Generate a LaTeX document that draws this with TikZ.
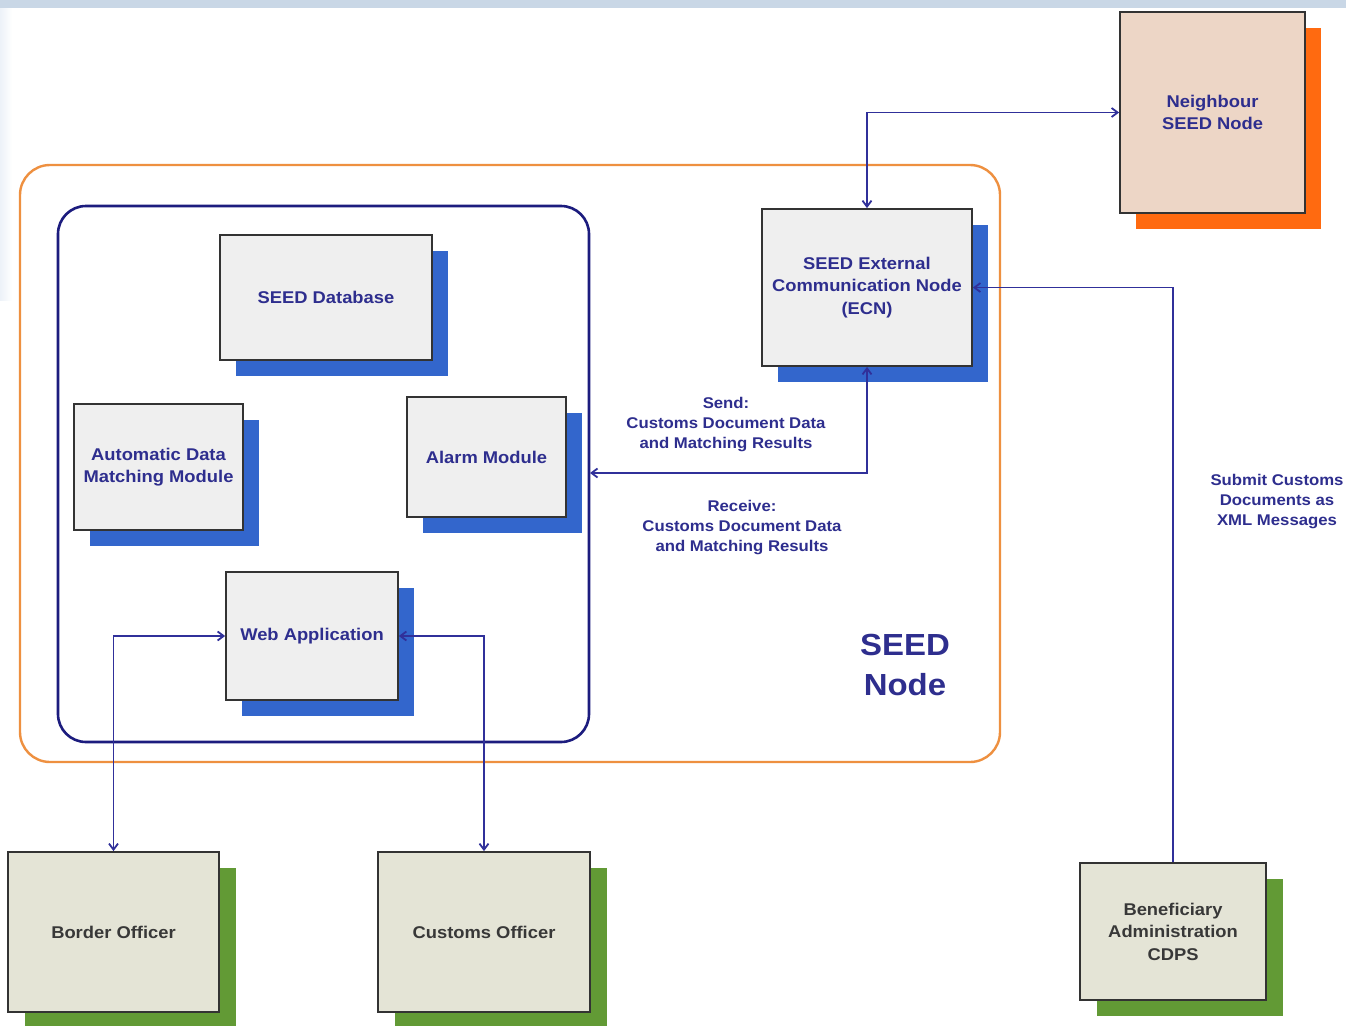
\documentclass[tikz,border=0pt]{standalone}
\usepackage{fontspec}
\setmainfont{Liberation Sans}[FakeStretch=1.08]
\usetikzlibrary{arrows.meta,shadows}
\definecolor{navytext}{HTML}{2E2E8E}
\definecolor{arrowblue}{HTML}{30309A}
\definecolor{boxfill}{HTML}{EFEFEF}
\definecolor{boxline}{HTML}{333333}
\definecolor{shblue}{HTML}{3366CC}
\definecolor{shorange}{HTML}{FF6A10}
\definecolor{shgreen}{HTML}{629A35}
\definecolor{greenfill}{HTML}{E4E4D6}
\definecolor{peachfill}{HTML}{EDD6C6}
\definecolor{outerorange}{HTML}{EE9040}
\definecolor{innernavy}{HTML}{1C1C7E}
\definecolor{bandblue}{HTML}{C9D7E6}
\definecolor{edgeblue}{HTML}{EDF2F8}
\begin{document}
\begin{tikzpicture}[x=1pt,y=-1pt,
  boxbase/.style={draw=boxline, line width=1.8pt, fill=boxfill, inner sep=0pt,
    align=center, text=navytext, font=\bfseries\fontsize{17}{22.5}\selectfont},
  blueshadow/.style={drop shadow={shadow xshift=16pt, shadow yshift=-16pt, fill=shblue, opacity=1}},
  orangeshadow/.style={drop shadow={shadow xshift=16pt, shadow yshift=-16pt, fill=shorange, opacity=1}},
  greenshadow/.style={drop shadow={shadow xshift=17pt, shadow yshift=-16pt, fill=shgreen, opacity=1}},
  bluebox/.style={boxbase, blueshadow},
  greenbox/.style={boxbase, greenshadow, fill=greenfill, text=black!78},
  peachbox/.style={boxbase, orangeshadow, fill=peachfill},
  conn/.style={draw=arrowblue, line width=1.8pt},
  tipped/.style={conn, arrows={-Straight Barb[length=6pt,width=9pt]}},
  bitipped/.style={conn, arrows={Straight Barb[length=6pt,width=9pt]-Straight Barb[length=6pt,width=9pt]}},
  lbl/.style={align=center, text=navytext, font=\bfseries\fontsize{15.5}{20}\selectfont}]
\useasboundingbox (0,0) rectangle (1346,1025);
\fill[white] (0,0) rectangle (1346,1025);
\shade[left color=edgeblue, right color=white] (0,8) rectangle (12,300);
\fill[bandblue] (0,0) rectangle (1346,8);

% containers
\node[draw=outerorange, line width=2.4pt, rounded corners=30pt, fill=white,
  minimum width=980pt, minimum height=597pt] (outer) at (510,463.5) {};
\node[draw=innernavy, line width=2.6pt, rounded corners=28pt,
  minimum width=531pt, minimum height=536pt] (inner) at (323.5,474) {};

% boxes
\node[peachbox, minimum width=185pt, minimum height=201pt] (neigh) at (1212.5,112.5) {Neighbour\\SEED Node};
\node[bluebox, minimum width=212pt, minimum height=125pt] (db) at (326,297.5) {SEED Database};
\node[bluebox, minimum width=169pt, minimum height=126pt] (adm) at (158.5,467) {Automatic Data\\Matching Module};
\node[bluebox, minimum width=159pt, minimum height=120pt] (alarm) at (486.5,457) {Alarm Module};
\node[bluebox, minimum width=172pt, minimum height=128pt] (web) at (312,636) {Web Application};
\node[bluebox, minimum width=210pt, minimum height=157pt] (ecn) at (867,287.5) {SEED External\\Communication Node\\(ECN)};
\node[greenbox, minimum width=211pt, minimum height=160pt] (border) at (113.5,932) {Border Officer};
\node[greenbox, minimum width=212pt, minimum height=160pt] (customs) at (484,932) {Customs Officer};
\node[greenbox, minimum width=186pt, minimum height=137pt] (bene) at (1173,931.5) {Beneficiary\\Administration\\CDPS};

% labels
\node[lbl] (sendlbl) at (726,425) {Send:\\Customs Document Data\\and Matching Results};
\node[lbl] (recvlbl) at (742,528) {Receive:\\Customs Document Data\\and Matching Results};
\node[lbl] (submitlbl) at (1277,502) {Submit Customs\\Documents as\\XML Messages};
\node[align=center, text=navytext, font=\bfseries\fontsize{30.5}{40}\selectfont] (seednode) at (905,665) {SEED\\Node};

% connectors
\coordinate (recvpt) at (590,473);
\draw[bitipped] (ecn.north) |- (neigh.west);
\draw[bitipped] (ecn.south) |- (recvpt);
\draw[tipped] (bene.north) |- (ecn.east);
\draw[bitipped] (border.north) |- (web.west);
\draw[bitipped] (customs.north) |- (web.east);
\end{tikzpicture}
\end{document}
